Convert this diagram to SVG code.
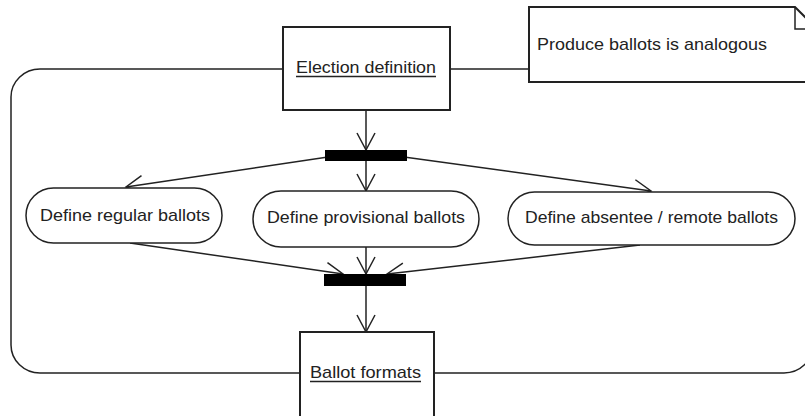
<svg xmlns="http://www.w3.org/2000/svg" width="805" height="416" viewBox="0 0 805 416">
  <style>
    .bg { fill: #ffffff; }
    .line { fill: none; stroke: #222; stroke-width: 1.5; }
    .box { fill: #ffffff; stroke: #222; stroke-width: 2; }
    .pill { fill: #ffffff; stroke: #222; stroke-width: 1.5; }
    .bar { fill: #000; }
    .label { font-family: "Liberation Sans", Arial, sans-serif; font-size: 17px; fill: #222; }
    .ul { stroke: #222; stroke-width: 1.3; }
  </style>
  <defs>
    <marker id="open" viewBox="0 0 20 20" refX="18" refY="10" markerWidth="20" markerHeight="20" markerUnits="userSpaceOnUse" orient="auto">
      <path d="M1,1 L18,10 L1,19" fill="none" stroke="#222" stroke-width="1.5"/>
    </marker>
  </defs>
  <rect class="bg" x="0" y="0" width="805" height="416"/>

  <g id="connectors">
    <!-- enclosing loop -->
    <rect class="line" x="11" y="69" width="802" height="304" rx="29" ry="28"/>
    <line class="line" x1="366" y1="110" x2="366" y2="150" marker-end="url(#open)"/>
    <line class="line" x1="366" y1="161" x2="366" y2="191" marker-end="url(#open)"/>
    <line class="line" x1="328" y1="157" x2="126" y2="187" marker-end="url(#open)"/>
    <line class="line" x1="404" y1="157" x2="651" y2="191" marker-end="url(#open)"/>
    <line class="line" x1="130" y1="243" x2="343" y2="274" marker-end="url(#open)"/>
    <line class="line" x1="366" y1="247" x2="366" y2="274" marker-end="url(#open)"/>
    <line class="line" x1="640" y1="245" x2="387" y2="274" marker-end="url(#open)"/>
    <line class="line" x1="366" y1="286" x2="366" y2="332" marker-end="url(#open)"/>
  </g>

  <g id="election-definition">
    <rect class="box" x="283" y="27" width="167" height="83"/>
    <text class="label" x="296" y="73" textLength="140" lengthAdjust="spacingAndGlyphs">Election definition</text>
    <line class="ul" x1="296" y1="76.5" x2="436" y2="76.5"/>
  </g>

  <g id="note">
    <path class="box" d="M529,7 L795,7 L817,29 L817,82 L529,82 Z"/>
    <path class="line" d="M795,7 L795,29 L817,29"/>
    <text class="label" x="537" y="50" textLength="230" lengthAdjust="spacingAndGlyphs">Produce ballots is analogous</text>
  </g>

  <g id="fork">
    <rect class="bar" x="325" y="150" width="82" height="11"/>
  </g>

  <g id="define-regular">
    <rect class="pill" x="26" y="188" width="196" height="55" rx="27.5"/>
    <text class="label" x="40" y="221" textLength="170" lengthAdjust="spacingAndGlyphs">Define regular ballots</text>
  </g>

  <g id="define-provisional">
    <rect class="pill" x="253" y="191" width="226" height="56" rx="28"/>
    <text class="label" x="267" y="223" textLength="198" lengthAdjust="spacingAndGlyphs">Define provisional ballots</text>
  </g>

  <g id="define-absentee">
    <rect class="pill" x="508" y="192" width="287" height="53" rx="26.5"/>
    <text class="label" x="525" y="223" textLength="253" lengthAdjust="spacingAndGlyphs">Define absentee / remote ballots</text>
  </g>

  <g id="join">
    <rect class="bar" x="324" y="274" width="82" height="12"/>
  </g>

  <g id="ballot-formats">
    <rect class="box" x="300" y="332" width="134" height="95"/>
    <text class="label" x="310" y="378" textLength="111" lengthAdjust="spacingAndGlyphs">Ballot formats</text>
    <line class="ul" x1="310" y1="381.5" x2="421" y2="381.5"/>
  </g>
</svg>
